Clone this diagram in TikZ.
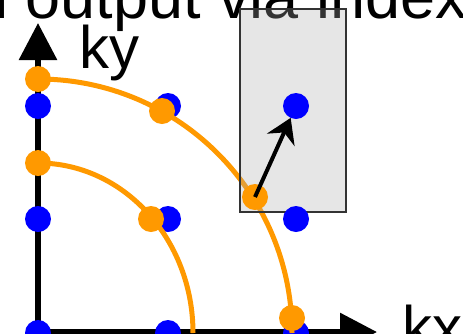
\documentclass[tikz,border=0pt]{standalone}
\usepackage{fontspec}
\setmainfont{Liberation Sans}
\usetikzlibrary{arrows.meta}
\definecolor{dotblue}{RGB}{0,0,255}
\definecolor{dotorange}{RGB}{255,153,0}
\definecolor{boxfill}{RGB}{171,171,171}
\definecolor{boxline}{RGB}{51,51,51}
\begin{document}
\begin{tikzpicture}[x=1pt,y=-1pt,
  bluedot/.style={circle,fill=dotblue,minimum size=26pt,inner sep=0pt,outer sep=0pt},
  orangedot/.style={circle,fill=dotorange,minimum size=26pt,inner sep=0pt,outer sep=0pt},
  axisline/.style={line width=6pt,-{Triangle[width=37pt,length=37pt]}},
  curve/.style={draw=dotorange,line width=5pt},
  bigtext/.style={font=\fontsize{60}{72}\selectfont,inner sep=0pt,outer sep=0pt,anchor=base west},
  titletext/.style={bigtext,font=\fontsize{63}{75}\selectfont},
  selbox/.style={draw=boxline,line width=1.3pt,fill=boxfill,fill opacity=0.3},
  pointer/.style={line width=4pt,-{Stealth[length=24pt,width=30pt,inset=8pt]}}]
\useasboundingbox (0,0) rectangle (463,333);
\clip (0,0) rectangle (463,333);
% texts
\node[titletext] (title) at (-27,18) {n output via index};
\node[bigtext] (ky) at (79,68) {ky};
\node[bigtext] (kx) at (402,348) {kx};
% axes
\coordinate (O) at (38,332);
\coordinate (ytip) at (38,23);
\coordinate (xtip) at (377,332);
\draw[axisline] (O) -- (ytip);
\draw[axisline] (O) -- (xtip);
% blue grid (below arcs)
\node[bluedot] (b11) at (38,106) {};
\node[bluedot] (b12) at (168,106) {};
\node[bluedot] (b21) at (38,219) {};
\node[bluedot] (b22) at (168,219) {};
\node[bluedot] (b31) at (38,333) {};
\node[bluedot] (b32) at (168,333) {};
\node[bluedot] (b33) at (296,333) {};
% arcs
\coordinate (outerstart) at (38,79);
\coordinate (innerstart) at (38,163);
\draw[curve] (outerstart) arc[start angle=-90,end angle=0,radius=254];
\draw[curve] (innerstart) arc[start angle=-90,end angle=0,x radius=155,y radius=170];
% box
\path[selbox] (240,9) rectangle (346,212);
% blue dots above box
\node[bluedot] (b13) at (296,106) {};
\node[bluedot] (b23) at (296,219) {};
% orange dots
\node[orangedot] (o1) at (38,79) {};
\node[orangedot] (o2) at (162,111) {};
\node[orangedot] (o3) at (38,163) {};
\node[orangedot] (o4) at (151,219) {};
\node[orangedot] (o5) at (255,197) {};
\node[orangedot] (o6) at (292,318) {};
% arrow
\draw[pointer] (o5.center) -- (b13);
\end{tikzpicture}
\end{document}
